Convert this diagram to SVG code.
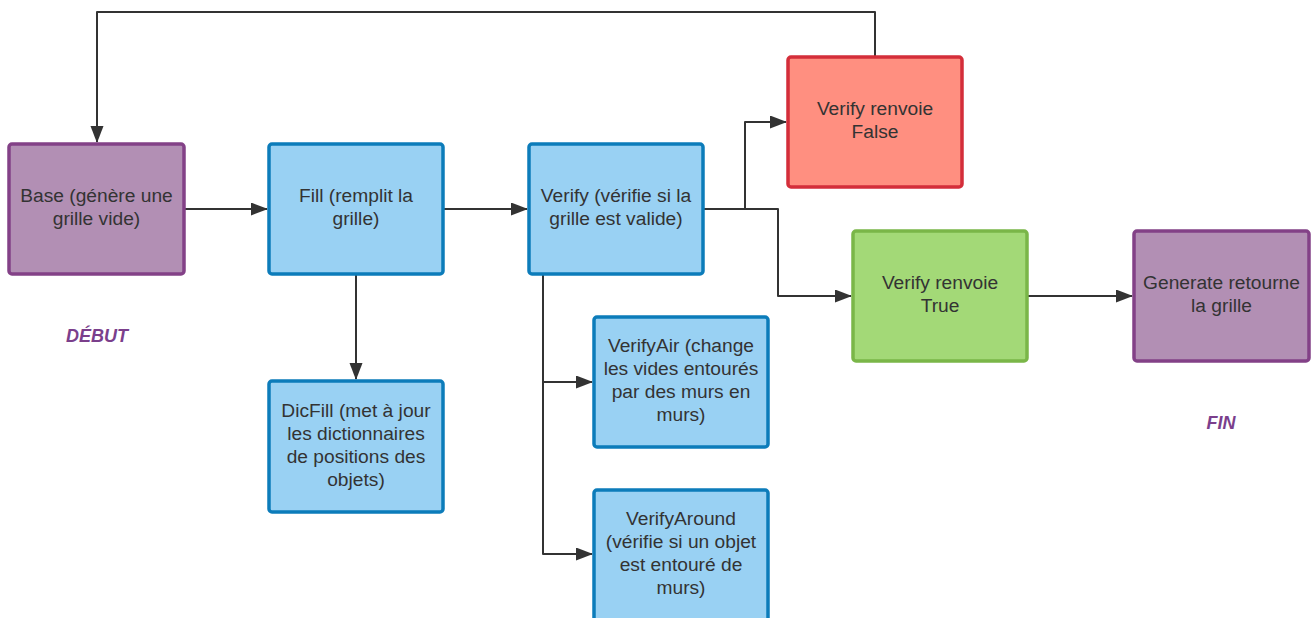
<svg xmlns="http://www.w3.org/2000/svg" width="1315" height="618" viewBox="0 0 1315 618">
<style>
.box{stroke-width:3.5}
.purple{fill:#B28FB4;stroke:#834187}
.blue{fill:#99D1F3;stroke:#0C7CBA}
.red{fill:#FF8F80;stroke:#D42E3A}
.green{fill:#A3D977;stroke:#7AB648}
.t{font-family:"Liberation Sans",Arial,sans-serif;font-size:19.2px;fill:#333;text-anchor:middle}
.lbl{font-family:"Liberation Sans",Arial,sans-serif;font-size:18px;font-weight:bold;font-style:italic;fill:#7B3F8C;text-anchor:middle}
.c{fill:none;stroke:#333;stroke-width:2;stroke-linejoin:round}
</style>
<defs>
<marker id="arr" markerWidth="17" markerHeight="14" refX="16" refY="6.5" orient="auto" markerUnits="userSpaceOnUse">
<path d="M0,0 L17,6.5 L0,13 Z" fill="#333"/>
</marker>
</defs>
<rect width="1315" height="618" fill="#fff"/>
<g id="connectors">
<path class="c" d="M875,57 V12 H97 V142" marker-end="url(#arr)"/>
<path class="c" d="M184,209 H267" marker-end="url(#arr)"/>
<path class="c" d="M443,209 H527" marker-end="url(#arr)"/>
<path class="c" d="M703,209 H745 V122 H786" marker-end="url(#arr)"/>
<path class="c" d="M745,209 H778 V296 H851" marker-end="url(#arr)"/>
<path class="c" d="M356,274 V379" marker-end="url(#arr)"/>
<path class="c" d="M543,274 V554 H592" marker-end="url(#arr)"/>
<path class="c" d="M543,382 H592" marker-end="url(#arr)"/>
<path class="c" d="M1027,296 H1132" marker-end="url(#arr)"/>
</g>
<g id="base">
<rect class="box purple" x="9" y="144" width="175" height="130" rx="3"/>
<text class="t" x="96.5" y="201.5">Base (génère une</text>
<text class="t" x="96.5" y="224.5">grille vide)</text>
</g>
<g id="fill">
<rect class="box blue" x="269" y="144" width="174" height="130" rx="3"/>
<text class="t" x="356" y="201.5">Fill (remplit la</text>
<text class="t" x="356" y="224.5">grille)</text>
</g>
<g id="verify">
<rect class="box blue" x="529" y="144" width="174" height="130" rx="3"/>
<text class="t" x="616" y="201.5">Verify (vérifie si la</text>
<text class="t" x="616" y="224.5">grille est valide)</text>
</g>
<g id="verify-false">
<rect class="box red" x="788" y="57" width="174" height="130" rx="3"/>
<text class="t" x="875" y="114.5">Verify renvoie</text>
<text class="t" x="875" y="137.5">False</text>
</g>
<g id="verify-true">
<rect class="box green" x="853" y="231" width="174" height="130" rx="3"/>
<text class="t" x="940" y="288.5">Verify renvoie</text>
<text class="t" x="940" y="311.5">True</text>
</g>
<g id="generate">
<rect class="box purple" x="1134" y="231" width="175" height="130" rx="3"/>
<text class="t" x="1221.5" y="288.5">Generate retourne</text>
<text class="t" x="1221.5" y="311.5">la grille</text>
</g>
<g id="dicfill">
<rect class="box blue" x="269" y="381" width="174" height="131" rx="3"/>
<text class="t" x="356" y="416.5">DicFill (met à jour</text>
<text class="t" x="356" y="439.5">les dictionnaires</text>
<text class="t" x="356" y="462.5">de positions des</text>
<text class="t" x="356" y="485.5">objets)</text>
</g>
<g id="verifyair">
<rect class="box blue" x="594" y="317" width="174" height="130" rx="3"/>
<text class="t" x="681" y="351.5">VerifyAir (change</text>
<text class="t" x="681" y="374.5">les vides entourés</text>
<text class="t" x="681" y="397.5">par des murs en</text>
<text class="t" x="681" y="420.5">murs)</text>
</g>
<g id="verifyaround">
<rect class="box blue" x="594" y="490" width="174" height="140" rx="3"/>
<text class="t" x="681" y="524.5">VerifyAround</text>
<text class="t" x="681" y="547.5">(vérifie si un objet</text>
<text class="t" x="681" y="570.5">est entouré de</text>
<text class="t" x="681" y="593.5">murs)</text>
</g>
<g id="debut">
<text class="lbl" x="97" y="342">DÉBUT</text>
</g>
<g id="fin">
<text class="lbl" x="1221" y="429">FIN</text>
</g>
</svg>
